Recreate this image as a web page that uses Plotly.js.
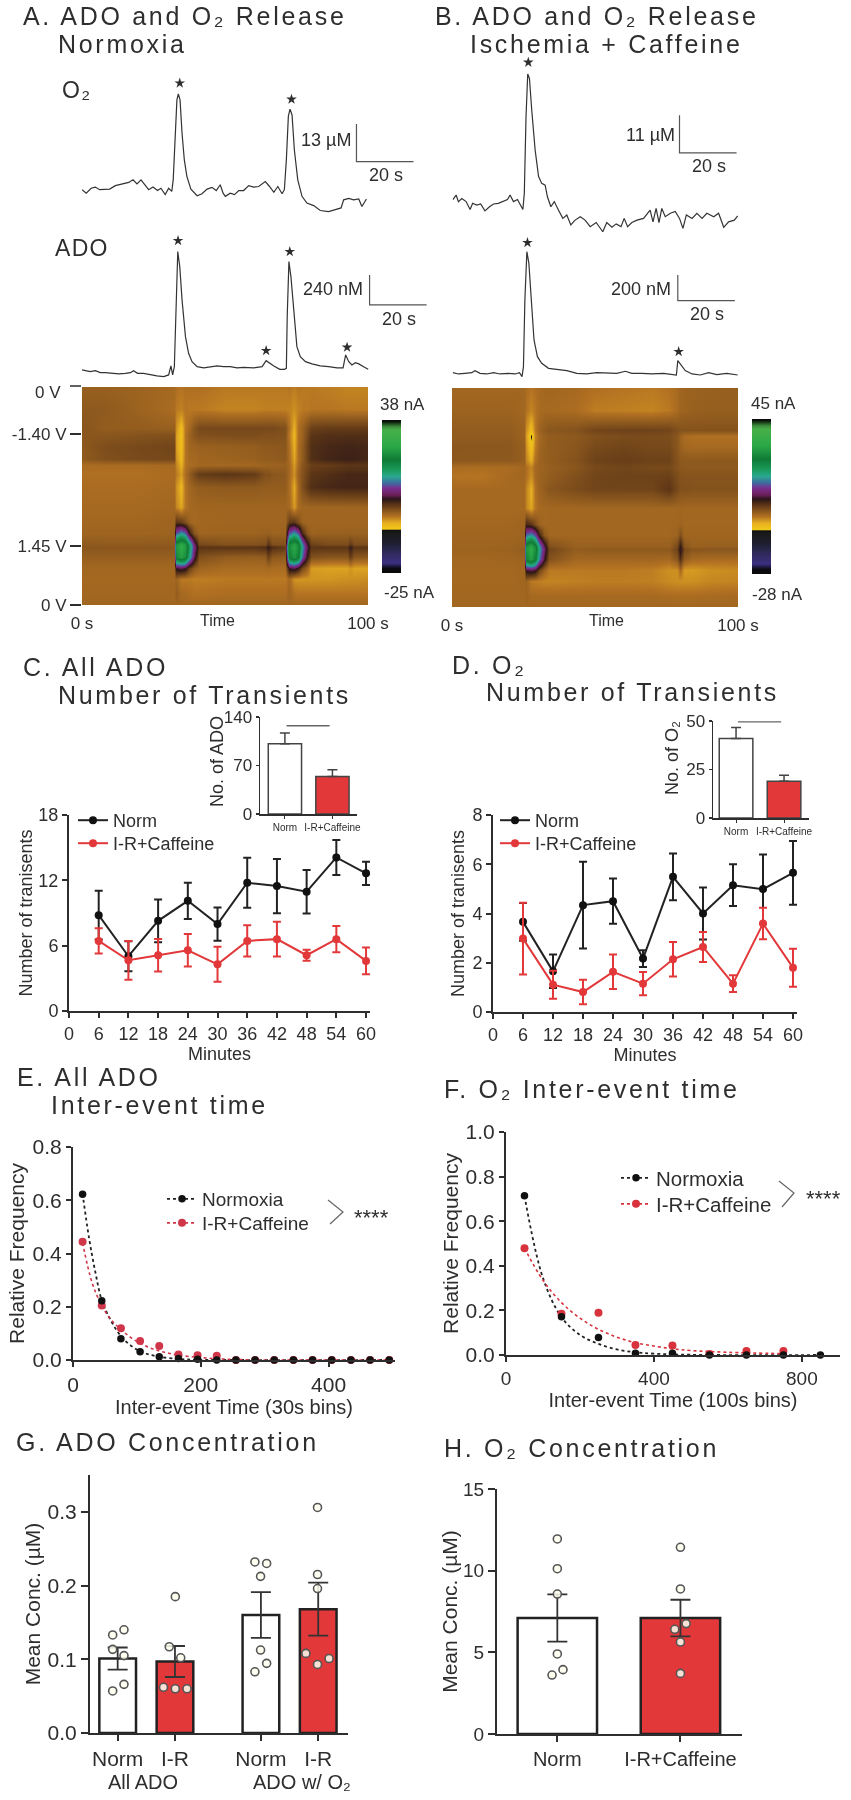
<!DOCTYPE html>
<html><head><meta charset="utf-8">
<script src="https://cdn.plot.ly/plotly-3.0.1.min.js"></script>
<style>html,body{margin:0;padding:0;background:#fff}#plot{width:851px;height:1800px;filter:blur(0.5px)}
#plot .annotation-text[style*="font-size: 25px"]{letter-spacing:2.7px}
#plot .annotation-text[style*="font-size: 23px"]{letter-spacing:1.3px}</style>
</head><body><div id="plot"></div>
<script>
// ---------- Panel A, traces (seconds; uM / nM relative to baseline) ----------
const o2ATime=[0,1.5,3.2,4.7,6.2,7.8,9.7,11.7,14,16.4,17.9,19.3,20.7,21.9,23.4,24.9,26.5,27.7,29.2,30.4,31.5,32,32.6,33.3,33.8,34.4,35.1,35.9,36.8,38.2,40.4,42.1,43.9,45.6,47.1,48.5,49.5,50.3,52,53.5,55,56.7,58.5,60.2,62,64.3,65.8,67.3,68.7,70.2,71,71.7,72.4,73,73.7,74.5,75.7,77.2,78.9,81.3,83.6,86.5,88.9,90.9,91.8,93.6,95.3,97.1,98.2,99.8];
const o2AValue=[0.6,-0.6,1.1,1.5,0.6,0.8,0.8,2,2.6,3.1,4,2.6,4,2.6,0.6,1.5,0.3,1.1,-1.1,1.1,0,4,17.8,31.6,33.7,31.6,20.1,10.9,5.2,0.8,-1.5,-0.8,0.8,1.4,0.3,2.3,-0.6,-1.7,-0.6,-1.1,0.3,0.3,2,1.5,1.7,3.4,1.7,-0.3,1.7,-0.8,0.6,10.9,25.9,28.4,26.4,14.4,4,-1.7,-4,-4.9,-6.6,-7,-6.3,-5.7,-2.9,-2.4,-2.9,-2.6,-5.2,-2.6];
const o2AStarTime=[34.3,73.5], o2AStarValue=[37.4,31.8];
const adoATime=[0,1.5,2.9,4.7,6.4,8.2,10.5,12.9,15.2,17,18.1,19.5,21.6,24,26.3,28.7,30.4,31.2,31.8,32.4,33,33.6,34.3,35.1,36.3,37.4,38.6,40.4,42.7,45,47.4,49.7,52,54.4,56.7,60.2,63.2,64.6,65.8,67.3,69.4,71,71.7,72,72.6,73.3,74.3,75.4,76.6,78.4,80.7,83.6,86.5,89.5,91.6,92.5,93.6,94.7,95.9,97.1,98.8,100.4];
const adoAValue=[-13,-19,-27,-19,-35,-35,-40,-45,-40,-35,-19,-40,-40,-53,-61,-67,-53,19,-53,13,600,933,813,547,253,120,53,13,3,13,19,13,13,3,8,3,13,61,40,19,-8,-8,0,413,853,733,467,173,93,53,35,19,13,3,3,107,53,27,45,35,13,-8];
const adoAStarTime=[33.7,72.9,64.6,93], adoAStarValue=[1021,933,141,168];
// ---------- Panel B, traces ----------
const o2BTime=[0,1.2,2,3.2,4.7,6.1,7,8.4,9.8,11.3,12.9,14.3,16,17.8,19.2,20.1,21.3,22.7,24.6,25.1,25.7,26.3,26.9,27.7,28.9,30.1,31.2,32.4,33.2,34.4,35.6,37.1,38.6,40,41.4,42.9,44.7,46.4,48.2,50.3,52.6,54,55.8,57.3,59,60.1,61.3,62.8,64.6,66.9,69.2,70.2,71.3,72.3,73.3,74.5,76.3,78,79.5,80.7,81.9,83.9,85.6,87.4,89.1,91.5,93.2,95,96.7,98.7,99.9];
const o2BValue=[4.9,6.3,4.4,5.3,4.4,2.1,3.9,3.4,3.7,1.7,2.9,3.7,3.9,4.4,5,6.3,4.4,5,2.1,6.8,29.1,41.6,40.3,31.1,19.4,11.7,9.7,9.2,5.8,2.9,4.4,1.9,-0.5,0.5,-2.4,-1,0,-1,-2.9,-1.7,-4.4,-1.7,-3.1,-2.1,-2.9,-0.5,-2.9,-1.7,-1,-0.5,1.9,-1.5,2.4,-1.7,2.4,0,1,1.5,-0.5,-3.4,0.5,-0.5,1,-0.5,1,0,1,-3.1,-1.5,-1,0.2];
const o2BStarTime=[26.5], o2BStarValue=[45];
const adoBTime=[0,2,4.3,6.7,7.8,9.6,11.9,14.3,16.6,19.5,21.9,23.4,24.3,24.8,25.3,26,26.7,27.5,28.5,29.7,31.2,33.6,36.5,40,43.5,47,50.5,54,57.5,60.5,62.8,66.3,69.8,73.9,77.4,78.4,78.9,80,81.5,83.9,86.8,89.7,92.6,96.1,99.9];
const adoBValue=[5,-5,0,5,21,0,-5,5,-5,0,-5,5,-26,52,571,948,857,571,260,130,78,39,31,21,0,-5,5,0,0,16,0,0,-5,0,-13,-13,99,65,21,-5,-13,5,-10,0,-13];
const adoBStarTime=[26.2,79.2], adoBStarValue=[1018,169];
// Scale bars (time, response)
const barO2AT=[96.3,96.3,116.3], barO2AV=[23.3,10.3,10.3];
const barAdoAT=[100.9,100.9,120.9], barAdoAV=[747,507,507];
const barO2BT=[79.5,79.5,99.5], barO2BV=[29.6,18.6,18.6];
const barAdoBT=[78.9,78.9,98.9], barAdoBV=[766,566,566];
// ---------- Voltammogram colour plots (colour-scale level, scan %, seconds) ----------
const scanPct=[0,10,19,22,27,33,36,40,46,55,62,67,72,73.5,78,83,88,95,100];
const timeA=[0,8,20,32,33,34.5,36,37.5,39,41,50,60,64,65.2,66.5,71,72.5,74,75.5,77,78.5,80,86,92.5,93.7,95,100];
const levelA=[
[-0.3,-0.3,-0.5,-1,-1.5,-1.8,-1.5,-1.5,-1.5,-1.5,-2,-2,-2,-2,-2,-2,-1.8,-2.2,-1.8,-2,-2,-2,-2.2,-2.5,-2.5,-2.5,-2.5],
[0.3,0.2,-0.5,-1.2,-2,-2.3,-1.8,-2,-2,-2,-2.5,-2.5,-2.3,-2.3,-2.3,-2.3,-2.4,-3,-2.4,-2,-2,-1.8,-1.8,-2,-2,-2,-2],
[0.6,0,0,-0.3,-3,-5.5,-2,-1,0.6,1.5,1.5,1.5,1.5,1.5,1.5,1,-1.5,-4.5,-1.5,-0.5,1,2.2,2.5,2.5,2.5,2.5,2.5],
[0.5,0.5,0.8,1,-3.5,-6,-1.8,-0.5,0.5,1,1.2,1.2,1,1,1,0.8,-2,-5,-1.5,-0.5,1.5,3,3.5,3.5,3.5,3.5,3.5],
[0.3,1.2,1.5,1.8,-3.5,-5.8,-1.8,-0.7,-0.5,-0.3,-0.2,0,0.3,0.3,0.3,0.5,-1.5,-4.5,-1.3,0,2,3.5,4,4.2,4.2,4.2,4],
[0.2,1,1.4,1.6,-3,-5.2,-1.8,-1,-1,-0.7,-0.5,-0.3,0,0,0,0.2,-1.2,-4,-1.3,0,2,3.5,4.2,4.5,4.5,4.5,4],
[-1.2,-1.2,-1.2,-1,-2.5,-4.5,-1.8,-1.2,-1,-0.8,-0.8,-0.8,-0.5,-0.5,-0.5,-0.3,-1,-3.5,-1,0.5,1.5,2.2,2.5,3,3,3,3],
[-1.5,-1.5,-1.5,-1.2,-2,-3.5,-1.3,0,1.5,2.5,3,2.5,1,1,0.5,0.3,-1,-3,-0.5,0.8,2,3,3.5,4,4,4,4],
[-1.2,-1.2,-1.2,-1,-3,-5,-1.8,-0.8,-0.3,0,0.2,0.2,0,0,0,0,-1.2,-4.2,-1,1,2.5,3.5,4,4.2,4.2,4.2,4.2],
[-1,-1,-1,-0.8,-2.5,-4,-1.8,-1,-0.8,-0.7,-0.7,-0.7,-0.7,-0.7,-0.7,-0.7,-1,-3.5,-1.2,-0.7,-0.7,-0.7,-0.7,-0.7,-0.7,-0.7,-0.7],
[-0.8,-0.8,-0.8,-0.5,3,2.5,1,-0.5,-1,-0.8,-0.7,-0.7,-0.7,-0.7,-0.7,-0.7,2.5,3,1,-0.5,-0.7,-0.7,-0.7,-0.7,-0.7,-0.7,-0.7],
[-0.6,-0.6,-0.6,-0.5,11,14,12,5,0.5,-0.7,-0.5,-0.5,-0.3,-0.3,-0.5,-0.5,11,14,11,4,0.3,-0.5,-0.3,-0.3,-0.3,-0.3,-0.3],
[0.2,0.1,0.1,0.2,24,27,25,17,8,1.5,0.8,0.8,1,3,1,0.8,23,26,23,13,6,2,1.2,1.2,2.5,1.2,1],
[0.5,0.5,0.5,0.5,25,28,26,18,9,3,3,3,3.5,5,3.5,2.5,24,27,24,14,7,3,3,3,5,3,3],
[-0.2,-0.2,-0.2,-0.2,23,26,24,16,7,1,0,-0.2,0,2,0.3,0,22,25,22,12,5,1,0.5,0.5,2.5,0.5,0.3],
[-0.8,-0.8,-0.8,-0.8,6,7,6,2.5,0.3,-0.6,-1.2,-1.2,-1.2,-1,-1.2,-1.3,6,7,5,1.5,-0.5,-3.5,-3.8,-3.8,-3.2,-3.8,-3.8],
[-0.9,-0.9,-0.9,-0.9,-0.5,-2,-2,-2,-2.2,-2.2,-2,-2,-2,-2,-2,-2,-1,-3,-3.2,-3.2,-3.2,-3.2,-3.2,-3,-3,-3,-2.8],
[-0.8,-0.8,-0.8,-0.8,0,-1,-1,-1.3,-1.5,-1.5,-1.3,-1.3,-1.3,-1.3,-1.3,-1.3,-0.5,-1.5,-1.7,-1.7,-1.7,-1.7,-1.7,-1.7,-1.7,-1.7,-1.7],
[-0.7,-0.7,-0.7,-0.7,-0.7,-0.7,-0.7,-0.7,-0.7,-0.7,-0.7,-0.7,-0.7,-0.7,-0.7,-0.7,-0.7,-0.7,-0.7,-0.7,-0.7,-0.7,-0.7,-0.7,-0.7,-0.7,-0.7]];
const timeB=[0,10,20,25,26,27.5,29,30.5,32,34,43,50,60,70,76,78.5,79.7,81,84,90,100];
const levelB=[
[-0.8,-0.8,-0.8,-0.8,-1.3,-1.8,-1.4,-1,-0.8,-0.8,-1,-1.5,-1.8,-2,-1.6,-1.1,-0.6,-0.5,-0.4,-0.3,-0.2],
[-0.5,-0.5,-0.5,-0.8,-1.6,-2.5,-1.8,-1.2,-1,-1,-1.3,-2.2,-2.3,-2.5,-2,-1.2,-0.6,-0.5,-0.3,-0.2,-0.2],
[0,0,0,-0.5,-3,-5.5,-2,-0.5,0.1,0.5,0.8,1.8,2,2,1.8,1,0.8,0.8,0.8,0.8,0.8],
[0.1,0.1,0.1,-0.5,-3.5,-7.6,-2.5,-1,-0.3,0,0.3,1,1.3,1.3,1.2,0.5,-0.5,-1.2,-1.5,-1.5,-1.5],
[0.4,0.4,0.4,-0.2,-3,-6,-2.2,-0.7,-0.3,0,0.5,1.5,1.8,1.5,1.5,0.5,-0.3,-0.8,-1,-1,-1],
[0.4,0.3,0.3,-0.2,-2.5,-4.5,-1.5,-0.5,-0.2,0,0.8,2,2.3,2,2,0.8,0.3,0.2,0.2,0.3,0.3],
[-1.2,-1.3,-1.2,-0.8,-1.5,-2.5,-0.9,-0.6,-0.4,-0.2,0.5,1.5,1.8,1.5,1.5,0.8,0.4,0.3,0.3,0.3,0.3],
[-1.7,-1.8,-1,-0.8,-1.5,-3,-1,-0.5,-0.3,0,1,1.8,2,2,2.2,1.2,0.8,0.7,0.7,0.7,0.7],
[-1,-1,-1,-1,-2.5,-4.5,-1.5,-0.5,0,0.5,1.3,1.8,1.8,1.8,3,1.5,1,1,0.8,0.8,0.8],
[-1,-1,-1,-1,-2.5,-4,-1.8,-1,-0.9,-0.8,-0.8,-0.8,-0.8,-0.8,-0.8,-0.8,-0.7,-0.8,-0.8,-0.8,-0.8],
[-0.8,-0.8,-0.8,-0.5,4,3,1,-0.5,-0.9,-0.8,-0.8,-0.8,-0.8,-0.8,-0.8,-0.7,-0.6,-0.8,-0.8,-0.8,-0.8],
[-0.7,-0.7,-0.7,-0.5,12,14,11,4.5,0.3,-0.8,-0.8,-0.8,-0.8,-0.8,-0.8,-0.5,1,-0.7,-0.7,-0.7,-0.7],
[-0.6,-0.6,-0.5,-0.3,24,27,23,14,7,1,-0.3,-0.3,-0.3,-0.3,-0.3,1.5,5,0.5,-0.3,-0.2,-0.2],
[-0.5,-0.5,-0.4,0,25,28,24,15,8,1.8,0,0.2,0.2,0.2,0.3,2,6,1.5,0.5,0.5,0.5],
[-0.8,-0.8,-0.7,-0.5,23,26,22,13,6,0.8,-0.8,-0.8,-0.8,-0.8,-1,0.5,3.5,0,-1,-1.2,-1.2],
[-0.9,-0.9,-0.9,-0.7,6,7,6,2,-0.5,-2,-2,-2,-2,-2.2,-3,-3,-1,-3.5,-3.5,-3,-2.8],
[-0.9,-0.9,-0.9,-0.7,-0.5,-2,-2.2,-2.3,-2.5,-2.5,-2.3,-2.2,-2.2,-2.3,-2.8,-3,-3,-3,-3,-2.6,-2.5],
[-0.8,-0.8,-0.8,-0.8,-0.5,-1,-1,-1,-1,-1,-1,-1,-1,-1,-1.2,-1.2,-1.2,-1.2,-1.2,-1.1,-1],
[-0.8,-0.8,-0.8,-0.8,-0.8,-0.8,-0.8,-0.8,-0.8,-0.8,-0.8,-0.8,-0.8,-0.8,-0.8,-0.8,-0.8,-0.8,-0.8,-0.8,-0.8]];
const colorStops=[[0,'#0a0a08'],[0.03,'#0a0a10'],[0.065,'#3b2f80'],[0.13,'#2f2a5c'],[0.195,'#1e1e30'],[0.26,'#1a1a1a'],[0.278,'#111111'],[0.287,'#f0c818'],[0.326,'#e8b020'],[0.37,'#b37222'],[0.40,'#8f5a1e'],[0.446,'#5a3416'],[0.483,'#2a1518'],[0.51,'#6b1f5a'],[0.555,'#7a2f90'],[0.587,'#3f6aa0'],[0.63,'#2aa890'],[0.674,'#1a9a5a'],[0.74,'#0f7a35'],[0.826,'#2aa848'],[0.935,'#48b048'],[0.957,'#3a8a3a'],[0.99,'#0a140a'],[1,'#0a0a0a']];
// ---------- Panels C, D ----------
const minutes=[6,12,18,24,30,36,42,48,54,60];
const cNorm=[8.8,5.03,8.28,10.12,7.98,11.78,11.47,10.95,14.1,12.64];
const cNormErr=[2.24,1.38,1.96,1.66,1.53,2.3,2.5,2,1.6,1.07];
const cCaff=[6.44,4.66,5.12,5.58,4.29,6.44,6.6,5.12,6.6,4.6];
const cCaffErr=[1.15,1.78,1.5,1.5,1.6,1.44,1.6,0.5,1.2,1.23];
const dNorm=[3.66,1.65,4.34,4.5,2.17,5.49,4,5.15,4.99,5.65];
const dNormErr=[0.77,0.68,1.76,0.92,0.34,0.95,1.06,0.85,1.41,1.29];
const dCaff=[2.98,1.11,0.81,1.63,1.15,2.14,2.64,1.15,3.59,1.8];
const dCaffErr=[1.46,0.57,0.5,0.7,0.47,0.7,0.61,0.34,0.64,0.77];
// Insets
const insetCVal=[101.5,54.3], insetCErr=[15.4,9.6];
const insetDVal=[41,19], insetDErr=[5.7,3.1];
// ---------- Panels E, F ----------
const eBins=[15,45,75,105,135,165,195,225,255,285,315,345,375,405,435,465,495];
const eNorm=[0.6225,0.2225,0.08,0.031,0.0125,0.006,0.003,0,0,0,0,0,0,0,0,0,0];
const eCaff=[0.444,0.205,0.119,0.071,0.0525,0.021,0.0175,0.016,0,0,0,0,0,0,0,0,0];
const eNormFitX=[15,25,35,45,60,75,90,105,120,135,165,195,255,495];
const eNormFitY=[0.625,0.46,0.33,0.225,0.145,0.09,0.055,0.033,0.02,0.012,0.004,0.001,0,0];
const eCaffFitX=[15,30,45,60,75,90,105,120,135,150,165,195,225,255,300,495];
const eCaffFitY=[0.44,0.29,0.205,0.15,0.115,0.085,0.063,0.046,0.034,0.025,0.018,0.01,0.005,0.002,0,0];
const fBins=[50,150,250,350,450,550,650,750,850];
const fNorm=[0.714,0.172,0.078,0.0075,0.0075,0,0,0,0];
const fCaffBins=[50,150,250,350,450,550,650,750];
const fCaff=[0.479,0.185,0.19,0.045,0.043,0.005,0.018,0.018];
const fNormFitX=[50,100,150,200,250,300,350,400,500,850];
const fNormFitY=[0.714,0.345,0.17,0.09,0.05,0.025,0.012,0.006,0.001,0];
const fCaffFitX=[50,100,150,200,250,300,350,400,450,500,600,750];
const fCaffFitY=[0.479,0.335,0.235,0.165,0.115,0.08,0.055,0.04,0.028,0.02,0.012,0.006];
// ---------- Panels G, H ----------
const gNormX=[1,3.5], gNormVal=[0.101,0.16], gNormErr=[0.015,0.031];
const gCaffX=[2,4.5], gCaffVal=[0.097,0.168], gCaffErr=[0.021,0.036];
const gTickVals=[1,2,3.5,4.5], gTickText=['Norm','I-R','Norm','I-R'];
const gPtX=[0.913,1.11,0.913,1.11,1.11,0.913, 2.006,1.9,2.1,1.8,2.006,2.21, 3.395,3.6,3.494,3.494,3.6,3.395, 4.488,4.488,4.488,4.285,4.488,4.69];
const gPtY=[0.133,0.14,0.1135,0.105,0.066,0.057, 0.185,0.117,0.102,0.062,0.06,0.06, 0.232,0.23,0.2125,0.1125,0.0945,0.083, 0.306,0.215,0.196,0.108,0.093,0.101];
const hVal=[7.1,7.1], hErr=[1.45,1.12], hCats=['Norm','I-R+Caffeine'];
const hPtX=[0,0,0,0,0.046,-0.043, 1,1,1.046,0.954,1,1];
const hPtY=[11.94,10.12,8.57,4.9,3.94,3.61, 11.43,8.88,6.76,6.41,5.63,3.71];

// ---------- Helpers ----------
const W=851,H=1800;
const FONT='"Liberation Sans", Arial, sans-serif', TXT='#2e2e2e', AX='#2e2e2e', RED='#e2383a', TRC='#333333';
const data=[], shapes=[], annotations=[];
const layout={width:W,height:H,autosize:false,margin:{l:0,r:0,t:0,b:0},paper_bgcolor:'#fff',plot_bgcolor:'rgba(0,0,0,0)',barmode:'overlay',showlegend:true,font:{family:FONT,color:TXT},shapes,annotations};
function axes(n,xpx,ypx,xo,yo){
  const xk='xaxis'+n,yk='yaxis'+n;
  layout[xk]=Object.assign({domain:[xpx[0]/W,xpx[1]/W],anchor:'y'+n,showgrid:false,zeroline:false,visible:true,fixedrange:true},xo);
  layout[yk]=Object.assign({domain:[1-ypx[1]/H,1-ypx[0]/H],anchor:'x'+n,showgrid:false,zeroline:false,visible:true,fixedrange:true},yo);
  return {xaxis:'x'+n,yaxis:'y'+n};
}
function ax(o,size){return Object.assign({showline:true,linecolor:AX,linewidth:2,ticks:'outside',ticklen:5,tickwidth:2,tickcolor:AX,tickfont:{size:size,color:TXT,family:FONT}},o);}
function note(text,x,y,size,anchor,extra){annotations.push(Object.assign({xref:'paper',yref:'paper',x:x/W,y:1-y/H,text:text,showarrow:false,xanchor:anchor||'left',yanchor:'middle',font:{size:size,color:TXT,family:FONT},borderpad:0},extra||{}));}
function title(t,x,y){note(t,x,y,25,'left',{align:'left'});}
function hide(r){return {visible:false,range:r};}
function tracePanel(n,xpx,ypx,xr,yr,t,v,st,sv,bt,bv){
  const a=axes(n,xpx,ypx,hide(xr),hide(yr));
  data.push(Object.assign({type:'scatter',mode:'lines',x:t,y:v,line:{color:TRC,width:1.2},showlegend:false},a));
  data.push(Object.assign({type:'scatter',mode:'lines',x:bt,y:bv,line:{color:'#555',width:1.2},showlegend:false},a));
  data.push(Object.assign({type:'scatter',mode:'markers',x:st,y:sv,marker:{symbol:'star',size:8,color:'#2e2e2e'},showlegend:false,cliponaxis:false},a));
}
function bracket(p){shapes.push({type:'path',xref:'paper',yref:'paper',path:'M '+p[0][0]/W+' '+(1-p[0][1]/H)+' L '+p[1][0]/W+' '+(1-p[1][1]/H)+' L '+p[2][0]/W+' '+(1-p[2][1]/H),line:{color:'#666',width:1.2}});}
function legendAt(x,y,size){return {x:x/W,y:1-y/H,xanchor:'left',yanchor:'top',xref:'paper',yref:'paper',font:{size:size,color:TXT,family:FONT},bgcolor:'rgba(0,0,0,0)',itemwidth:30,tracegroupgap:0,traceorder:'normal'};}

// ---------- Titles ----------
title('A. ADO and O₂ Release',22,16); title('Normoxia',57,44);
title('B. ADO and O₂ Release',434,16); title('Ischemia + Caffeine',469,44);
title('C. All ADO',22,667); title('Number of Transients',57,695);
title('D. O₂',451,665); title('Number of Transients',485,692);
title('E. All ADO',16,1077); title('Inter-event time',50,1105);
title('F. O₂ Inter-event time',443,1089);
title('G. ADO Concentration',15,1442);
title('H. O₂ Concentration',443,1448);
note('O₂',61,90,23,'left',{align:'left'});
note('ADO',54,248,23,'left',{align:'left'});

// ---------- Traces ----------
tracePanel(1,[82,432],[75,225],[0,122.8],[-11.6,40.2],o2ATime,o2AValue,o2AStarTime,o2AStarValue,barO2AT,barO2AV);
tracePanel(2,[82,432],[230,378],[0,122.8],[-77.6,1106],adoATime,adoAValue,adoAStarTime,adoAStarValue,barAdoAT,barAdoAV);
tracePanel(3,[452.7,738],[50,240],[0,100],[-6.8,48.6],o2BTime,o2BValue,o2BStarTime,o2BStarValue,barO2BT,barO2BV);
tracePanel(4,[452.7,738],[235,380],[0,100],[-52,1078],adoBTime,adoBValue,adoBStarTime,adoBStarValue,barAdoBT,barAdoBV);
note('13 µM',352,140,18,'right'); note('20 s',386,175,18,'center');
note('240 nM',364,289,18,'right'); note('20 s',399,319,18,'center');
note('11 µM',676,135,18,'right'); note('20 s',709,166,18,'center');
note('200 nM',672,289,18,'right'); note('20 s',707,314,18,'center');

// ---------- Colour plots ----------
function heat(n,xpx,ypx,t,z,barX,barY,yticks){
  const xo={range:[0,100],tickvals:[0,100],ticktext:['0 s','100 s'],ticks:'',showline:false,tickfont:{size:17,color:TXT,family:FONT},ticklabelstandoff:6};
  const yo=yticks?{range:[100,0],tickvals:[21.5,73,100],ticktext:['-1.40 V','1.45 V','0 V'],ticks:'outside',ticklen:11,tickwidth:1.5,tickcolor:AX,showline:false,tickfont:{size:17,color:TXT,family:FONT}}:{range:[100,0],ticks:'',showticklabels:false,showline:false};
  const a=axes(n,xpx,ypx,xo,yo);
  data.push(Object.assign({type:'heatmap',x:t,y:scanPct,z:z,zmin:-25,zmax:38,zsmooth:'best',colorscale:colorStops,showlegend:false,
    colorbar:{thickness:19,thicknessmode:'pixels',lenmode:'pixels',len:barY[1]-barY[0],x:barX/W,xanchor:'left',xref:'paper',y:1-barY[0]/H,yanchor:'top',yref:'paper',xpad:0,ypad:0,outlinewidth:0,borderwidth:0,ticks:'',showticklabels:false}},a));
}
heat(5,[82,368],[387,605],timeA,levelA,382,[420,573],true);
heat(6,[452,738],[388,607],timeB,levelB,752,[419,574],false);
note('0 V',62,393,17,'right');
shapes.push({type:'line',xref:'paper',yref:'paper',x0:70/W,x1:81/W,y0:1-386/H,y1:1-386/H,line:{color:AX,width:1.5}});
note('Time',217,620,16,'center'); note('Time',606,620,16,'center');
note('38 nA',402,405,17,'center'); note('-25 nA',383,592,17,'left');
note('45 nA',773,403,17,'center'); note('-28 nA',777,595,17,'center');

// ---------- C, D ----------
function linePanel(n,xpx,ypx,yr,ydt,norm,ne,caff,ce,leg1,leg2,stand){
  const a=axes(n,xpx,ypx,
    ax({range:[0,60.8],tickvals:[0,6,12,18,24,30,36,42,48,54,60],title:{text:'Minutes',font:{size:18,color:TXT},standoff:4}},18),
    ax({range:yr,dtick:ydt,title:{text:'Number of tranisents',font:{size:18,color:TXT},standoff:stand}},18));
  data.push(Object.assign({type:'scatter',mode:'lines+markers',name:'Norm',legend:leg1,x:minutes,y:norm,line:{color:'#222',width:2},marker:{color:'#111',size:8},error_y:{type:'data',array:ne,color:'#222',thickness:2,width:4},cliponaxis:false},a));
  data.push(Object.assign({type:'scatter',mode:'lines+markers',name:'I-R+Caffeine',legend:leg2,x:minutes,y:caff,line:{color:RED,width:2},marker:{color:RED,size:8},error_y:{type:'data',array:ce,color:RED,thickness:2,width:4},cliponaxis:false},a));
}
linePanel(7,[69,370],[815,1011],[0,18],6,cNorm,cNormErr,cCaff,cCaffErr,'legend','legend2',1);
linePanel(8,[493,797],[815,1012],[0,8],2,dNorm,dNormErr,dCaff,dCaffErr,'legend3','legend4',3);
layout.legend=legendAt(73,802,18);
layout.legend2=legendAt(73,825,18);
layout.legend3=legendAt(495,802,18);
layout.legend4=legendAt(495,825,18);

function inset(n,xpx,ypx,xr,yr,dt,vals,errs,sig){
  const a=axes(n,xpx,ypx,
    ax({range:xr,tickvals:[0,1],ticktext:['Norm','I-R+Caffeine'],ticklen:3,linewidth:1.5,tickwidth:1},10),
    ax({range:yr,dtick:dt,linewidth:1.5,tickwidth:1.5,ticklen:3},17));
  data.push(Object.assign({type:'bar',x:[0],y:[vals[0]],width:0.7,marker:{color:'#fff',line:{color:'#444',width:1.5}},error_y:{type:'data',symmetric:false,array:[errs[0]],arrayminus:[0],color:'#444',thickness:1.5,width:5},showlegend:false},a));
  data.push(Object.assign({type:'bar',x:[1],y:[vals[1]],width:0.7,marker:{color:RED,line:{color:'#444',width:1.5}},error_y:{type:'data',symmetric:false,array:[errs[1]],arrayminus:[0],color:'#444',thickness:1.5,width:5},showlegend:false},a));
  data.push(Object.assign({type:'scatter',mode:'lines',x:sig[0],y:sig[1],line:{color:'#666',width:1.3},showlegend:false},a));
}
inset(9,[260,357],[717,814],[-0.524,1.517],[0,140],70,insetCVal,insetCErr,[[0.035,0.94],[127.4,127.4]]);
inset(10,[713,809],[721,818],[-0.48,1.52],[0,50],25,insetDVal,insetDErr,[[0.04,0.94],[49.6,49.6]]);
note('No. of ADO',217,762,18,'center',{textangle:-90});
note('No. of O₂',672,758,18,'center',{textangle:-90});

// ---------- E, F ----------
function freqPanel(n,xpx,ypx,xr,xt,yr,xlab,xs,ts,bx,nv,cx,cv,nfx,nfy,cfx,cfy,leg1,leg2,redc,stand,xstand){
  const a=axes(n,xpx,ypx,
    ax({range:xr,tickvals:xt,title:{text:xlab,font:{size:20,color:TXT},standoff:xstand}},xs),
    ax({range:yr,dtick:0.2,tickformat:'.1f',title:{text:'Relative Frequency',font:{size:21,color:TXT},standoff:stand}},ts));
  data.push(Object.assign({type:'scatter',mode:'lines',x:nfx,y:nfy,line:{color:'#222',width:1.8,dash:'dot',shape:'spline'},showlegend:false,cliponaxis:false},a));
  data.push(Object.assign({type:'scatter',mode:'lines',x:cfx,y:cfy,line:{color:redc,width:1.6,dash:'dot',shape:'spline'},showlegend:false,cliponaxis:false},a));
  data.push(Object.assign({type:'scatter',mode:'markers',x:cx,y:cv,marker:{color:redc,size:8},showlegend:false,cliponaxis:false},a));
  data.push(Object.assign({type:'scatter',mode:'markers',x:bx,y:nv,marker:{color:'#111',size:7.5},showlegend:false,cliponaxis:false},a));
  data.push(Object.assign({type:'scatter',mode:'lines+markers',name:'Normoxia',legend:leg1,x:[null],y:[null],line:{color:'#222',width:1.8,dash:'dot'},marker:{color:'#111',size:7.5}},a));
  data.push(Object.assign({type:'scatter',mode:'lines+markers',name:'I-R+Caffeine',legend:leg2,x:[null],y:[null],line:{color:redc,width:1.6,dash:'dot'},marker:{color:redc,size:8}},a));
}
freqPanel(11,[73,395],[1147,1360],[0,504],[0,200,400],[0,0.8],'Inter-event Time (30s bins)',21,21,eBins,eNorm,eBins,eCaff,eNormFitX,eNormFitY,eCaffFitX,eCaffFitY,'legend5','legend6','#d0364a',2,0);
freqPanel(12,[506,840],[1132,1355],[0,903],[0,400,800],[0,1],'Inter-event Time (100s bins)',19,21,fBins,fNorm,fCaffBins,fCaff,fNormFitX,fNormFitY,fCaffFitX,fCaffFitY,'legend7','legend8','#d8323c',1,2);
layout.legend5=legendAt(162,1180,19);
layout.legend6=legendAt(162,1204,19);
layout.legend7=legendAt(616,1158,20.5);
layout.legend8=legendAt(616,1184,20.5);
bracket([[328,1200],[343,1212],[330,1224]]);
bracket([[779,1181],[794,1193],[782,1207]]);
note('****',371,1217,22,'center'); note('****',823,1198,22,'center');

// ---------- G, H ----------
function barTrace(x,y,err,fill,w,a){
  data.push(Object.assign({type:'bar',x:x,y:y,width:w,marker:{color:fill,line:{color:'#222',width:2.5}},error_y:{type:'data',array:err,color:'#333',thickness:1.8,width:10},showlegend:false},a));
}
function dots(x,y,a){
  data.push(Object.assign({type:'scatter',mode:'markers',x:x,y:y,marker:{color:'rgba(255,255,240,0.85)',size:8,line:{color:'#555',width:1.6}},showlegend:false,cliponaxis:false},a));
}
const g=axes(13,[90,348],[1475,1733],
  ax({range:[0.517,5.02],tickvals:gTickVals,ticktext:gTickText,ticklen:6},21),
  ax({range:[0,0.35],tickvals:[0,0.1,0.2,0.3],tickformat:'.1f',ticklen:7,title:{text:'Mean Conc. (µM)',font:{size:21,color:TXT},standoff:1}},21));
barTrace(gNormX,gNormVal,gNormErr,'#fff',0.64,g);
barTrace(gCaffX,gCaffVal,gCaffErr,RED,0.64,g);
dots(gPtX,gPtY,g);
note('All ADO',143,1782,20,'center');
note('ADO w/ O₂',302,1782,20,'center');
const h=axes(14,[497,742],[1489,1734],
  ax({range:[-0.49,1.5],tickvals:[0,1],ticktext:hCats,ticklen:6},20),
  ax({range:[0,15],tickvals:[0,5,10,15],ticklen:7,title:{text:'Mean Conc. (µM)',font:{size:21,color:TXT},standoff:0}},19));
barTrace([0],[hVal[0]],[hErr[0]],'#fff',0.645,h);
barTrace([1],[hVal[1]],[hErr[1]],RED,0.645,h);
dots(hPtX,hPtY,h);

Plotly.newPlot('plot',data,layout,{displayModeBar:false,staticPlot:true});
</script></body></html>
